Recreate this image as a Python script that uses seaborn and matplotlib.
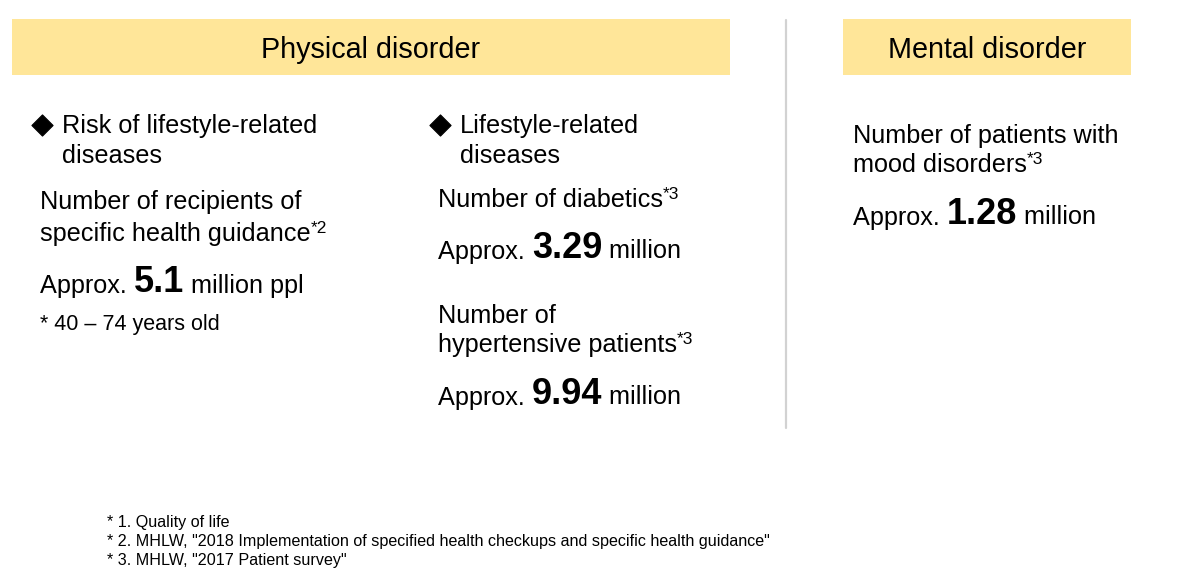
import matplotlib
matplotlib.use("Agg")
import matplotlib.pyplot as plt
import seaborn as sns
import pandas as pd

# ---- content ----
sections = ["Physical disorder", "Mental disorder"]
bullets = ["Risk of lifestyle-related\ndiseases", "Lifestyle-related\ndiseases"]
labels = ["Number of recipients of\nspecific health guidance",
          "Number of diabetics",
          "Number of\nhypertensive patients",
          "Number of patients with\nmood disorders"]
label_refs = ["*2", "*3", "*3", "*3"]
values = ["5.1", "3.29", "9.94", "1.28"]
units = ["million ppl", "million", "million", "million"]
age_note = "* 40 \u2013 74 years old"
footnotes = ['* 1. Quality of life',
             '* 2. MHLW, "2018 Implementation of specified health checkups and specific health guidance"',
             '* 3. MHLW, "2017 Patient survey"']

sns.set_theme(style="white")
plt.rcParams["font.family"] = ["Liberation Sans", "DejaVu Sans"]
plt.rcParams["text.color"] = "black"

W, H = 1177, 571
fig = plt.figure(figsize=(W / 100, H / 100), dpi=100)
ax = fig.add_axes([0, 0, 1, 1])
ax.set_xlim(0, W)
ax.set_ylim(H, 0)
ax.axis("off")

YELLOW = "#FFE699"
BODY = 18.2
BIG = 26

# header boxes
for (x0, x1), name in zip([(12, 730), (843, 1131)], sections):
    ax.add_patch(plt.Rectangle((x0, 19), x1 - x0, 56, color=YELLOW, lw=0))
    ax.text((x0 + x1) / 2, 58, name, ha="center", va="baseline", fontsize=20.7)

# divider
ax.plot([786, 786], [20, 428], color="#d2d2d2", lw=1.6)

fig.canvas.draw()
rend = fig.canvas.get_renderer()


def px_width(t):
    return t.get_window_extent(renderer=rend).width


def runs(x, y, parts):
    # parts: list of (text, size, weight, raise)
    for txt, size, weight, dy in parts:
        t = ax.text(x, y - dy, txt, ha="left", va="baseline", fontsize=size,
                    fontweight=weight)
        x += px_width(t)


# bullets with diamond markers
bdf = pd.DataFrame({"x": [42, 440], "y": [124.5, 124.5]})
sns.scatterplot(data=bdf, x="x", y="y", marker="D", s=115, color="black",
                edgecolor="black", ax=ax, legend=False)
for bx, txt in zip([62, 460], bullets):
    l1, l2 = txt.split("\n")
    ax.text(bx, 133, l1, va="baseline", fontsize=BODY)
    ax.text(bx, 163, l2, va="baseline", fontsize=BODY)

# label blocks: (x, baselines of lines, value baseline)
layout = [(40, [209, 241], 292.5),
          (438, [207], 258.5),
          (438, [323, 352], 404.5),
          (853, [143, 172], 224.5)]
for (x, lines, vy), lab, ref, val, unit in zip(layout, labels, label_refs, values, units):
    parts = lab.split("\n")
    for i, (ln, ly) in enumerate(zip(parts, lines)):
        if i == len(parts) - 1:
            runs(x, ly, [(ln, BODY, "normal", 0), (ref, 12.5, "normal", 8)])
        else:
            ax.text(x, ly, ln, va="baseline", fontsize=BODY)
    runs(x, vy, [("Approx. ", BODY, "normal", 0), (val, BIG, "bold", 0),
                 (" " + unit, BODY, "normal", 0)])

ax.text(40, 330, age_note, va="baseline", fontsize=15.5)

for i, fn in enumerate(footnotes):
    ax.text(107, 527 + i * 19, fn, va="baseline", fontsize=11.65)

fig.savefig("out.png", dpi=100)
